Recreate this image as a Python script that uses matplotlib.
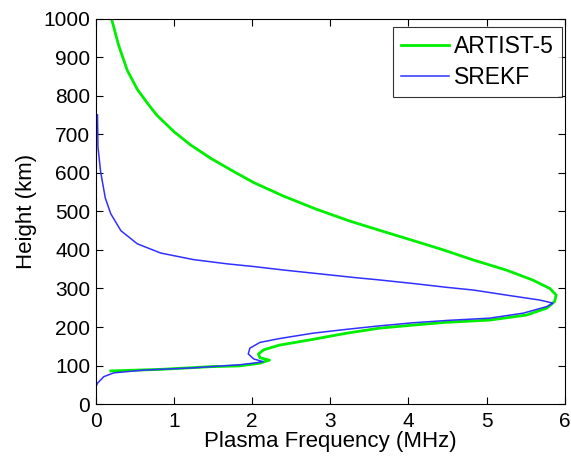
import matplotlib
matplotlib.use("Agg")
import matplotlib.pyplot as plt

plt.rcParams['font.family'] = ['Liberation Sans', 'DejaVu Sans']

artist_freq = [0.20, 0.29, 0.40, 0.53, 0.66, 0.78, 1.00, 1.21, 1.47, 1.77, 2.02, 2.40, 2.82, 3.25,
               3.68, 4.10, 4.45, 4.83, 5.25, 5.59, 5.81, 5.89, 5.87, 5.77, 5.51, 5.04, 4.47, 4.06,
               3.63, 3.21, 2.78, 2.35, 2.15, 2.08, 2.10, 2.22, 2.10, 1.84, 1.47, 0.83, 0.19]
artist_height = [1000, 932, 867, 817, 781, 750, 707, 673, 638, 603, 575, 540, 506, 475,
                 448, 422, 400, 374, 348, 322, 300, 283, 266, 249, 231, 218, 212, 205,
                 197, 184, 168, 153, 141, 130, 120, 114, 106, 99, 97, 90, 86]

srekf_freq = [0.02, 0.026, 0.06, 0.12, 0.19, 0.32, 0.53, 0.83, 1.25, 1.68, 2.02, 2.40, 2.82, 3.33,
              3.59, 4.06, 4.49, 4.83, 5.25, 5.68, 5.85, 5.77, 5.47, 5.04, 4.49, 4.06, 3.63, 3.21,
              2.78, 2.35, 2.10, 1.97, 1.95, 2.02, 2.14, 2.01, 1.84, 1.25, 0.61, 0.23, 0.10, 0.02, 0.0]
srekf_height = [751, 668, 603, 535, 494, 450, 416, 392, 375, 364, 357, 348, 339, 328,
                323, 313, 303, 296, 283, 270, 262, 253, 236, 223, 217, 211, 203, 194,
                184, 170, 160, 145, 130, 117, 110, 106, 102, 94, 88, 81, 71, 54, 45]

x_ticks = [0, 1, 2, 3, 4, 5, 6]
y_ticks = list(range(0, 1001, 100))

fig = plt.figure(figsize=(5.71, 4.62), dpi=100)
ax = fig.add_axes([0.168, 0.1255, 0.821, 0.8335])
ax.plot(artist_freq, artist_height, color='#00ee00', lw=2, label='ARTIST-5')
ax.plot(srekf_freq, srekf_height, color='#3030ff', lw=1.1, label='SREKF')
ax.set_xlim(0, 6)
ax.set_ylim(0, 1000)
ax.set_xticks(x_ticks)
ax.set_yticks(y_ticks)
ax.tick_params(direction='in', top=True, right=True, labelsize=15, length=5, pad=4)
ax.tick_params(axis='x', pad=6)
ax.set_xlabel('Plasma Frequency (MHz)', fontsize=16, labelpad=0)
ax.set_ylabel('Height (km)', fontsize=16, labelpad=5)
leg = ax.legend(loc='upper right', bbox_to_anchor=(0.9936, 0.979), borderaxespad=0,
                fontsize=16.5, fancybox=False, edgecolor='black',
                handlelength=2.1, handletextpad=0.2, labelspacing=0.35, borderpad=0.35)
leg.get_frame().set_linewidth(0.8)
for s in ax.spines.values():
    s.set_linewidth(0.8)
fig.savefig('out.png', dpi=100)
